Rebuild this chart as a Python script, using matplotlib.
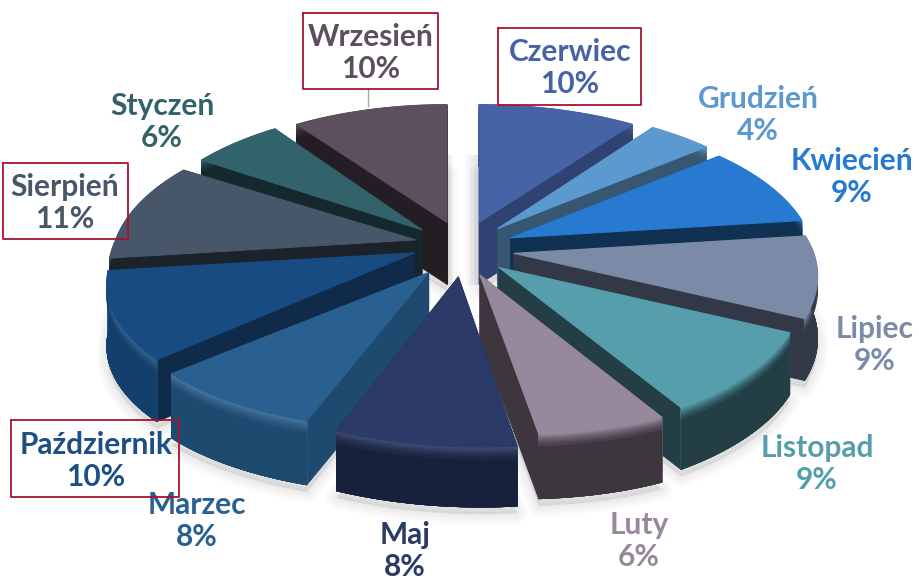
import matplotlib
matplotlib.use('Agg')
import matplotlib.pyplot as plt
from matplotlib.colors import to_rgb
import numpy as np

plt.rcParams['font.family'] = ['Lato', 'DejaVu Sans']

# miesiace i udzialy, zgodnie z ruchem wskazowek od godziny 12
months = ['Czerwiec', 'Grudzień', 'Kwiecień', 'Lipiec', 'Listopad', 'Luty',
          'Maj', 'Marzec', 'Październik', 'Sierpień', 'Styczeń', 'Wrzesień']
shares = [10, 4, 9, 9, 9, 6, 8, 8, 10, 11, 6, 10]

top_colors = ['#4563A5', '#5B99CE', '#277AD0', '#7B8AA6', '#569EAC', '#97899B',
              '#2B3A66', '#29608F', '#174B82', '#475669', '#32636A', '#5C4F5E']
wall_colors = ['#2F4272', '#375672', '#103152', '#323845', '#233F45', '#3D363F',
               '#18213C', '#1E4A70', '#133F6C', '#1C2229', '#15282D', '#241D24']
cut_colors = ['#2F4272', '#375672', '#103152', '#323845', '#233F45', '#3D363F',
              '#18213C', '#1E4A70', '#102A4A', '#1C2229', '#15282D', '#241D24']
label_colors = ['#4563A5', '#5B99CE', '#277AD0', '#7B8AA6', '#569EAC', '#97899B',
                '#2B3A66', '#29608F', '#1D4F85', '#475669', '#32636A', '#5C4F5E']

# srodki etykiet w pikselach
label_pos = [(570, 68), (758, 115), (852, 177), (875, 345), (817, 464), (639, 541),
             (405, 551), (197, 521), (96, 461), (65, 203), (162, 122), (371, 53)]
# ramki: lewa, gorna, prawa, dolna
boxes = [(498, 28, 641, 105), (303, 13, 438, 89), (3, 163, 128, 239), (11, 420, 179, 497)]

# parametry rzutu
cx, cy = 461.5, 249
rx, ry = 300, 142
persp = 0.17
ex, ey = 50, 28
# drobne korekty kawalkow
depths = [62, 62, 62, 62, 62, 65, 60, 64, 62, 62, 62, 62]
x_scale = [0.99, 1, 1, 1, 1, 1, 1, 1, 1, 1, 0.95, 0.97]
y_scale = [0.97, 1, 1, 1, 1, 0.92, 0.99, 0.92, 0.97, 1, 1, 0.97]
y_tilt = [0, 0, 0, 0, 0, 25, 18, 0, 0, 0, 0, 0]
x_nudge = [2, 2, 3, 3, 0, 0, 0, -6, -2, 3, -3, 1]
y_nudge = [0, 0, 0, 0, 0, 0, 0, 0, -8, -3, 0, 0]
rim_light = [0, 0, 0, 0, 0, 0, 0.1, 0.14, 0.14, 0, 0, 0]


def project(theta, r, i, mid):
    X = r * np.sin(theta)
    Y = r * np.cos(theta)
    s = 1 / (1 + persp * Y)
    shear = (10 - 6 * np.sin(theta)) * np.minimum(Y, 0)
    px = cx + rx * X * s * x_scale[i] + shear + ex * np.sin(mid) + x_nudge[i]
    py = cy - ry * Y * s * y_scale[i] + y_tilt[i] * X - ey * np.cos(mid) + y_nudge[i]
    return px, py


def mix(c1, c2, t):
    a, b = np.array(to_rgb(c1)), np.array(to_rgb(c2))
    return tuple(a + (b - a) * t)


fig = plt.figure(figsize=(9.2, 5.82), dpi=100)
ax = fig.add_axes([0, 0, 1, 1])
ax.set_xlim(0, 920)
ax.set_ylim(582, 0)
ax.axis('off')

edges = np.cumsum([0] + shares) / sum(shares) * 2 * np.pi
mids = (edges[:-1] + edges[1:]) / 2

# cien pod tortem
for i in range(len(shares)):
    th = np.linspace(edges[i], edges[i + 1], 40)
    x, y = project(th, 1.0, i, mids[i])
    x0, y0 = project(0.0, 0.0, i, mids[i])
    xs = np.r_[x0, x]
    ys = np.r_[y0, y] + depths[i] + 7
    for lw in [3, 7, 11, 15]:
        ax.fill(xs, ys, color='#000000', alpha=0.02, lw=lw, zorder=1, joinstyle='round')

# cien w szczelinie u gory
for w in [4, 8, 12]:
    ax.fill([478 - w, 478, 478, 478 - w], [155, 155, 285, 285], color='#000000', alpha=0.03, lw=0, zorder=1)
    ax.fill([447, 447 + w / 2, 447 + w / 2, 447], [155, 155, 285, 285], color='#000000', alpha=0.03, lw=0, zorder=1)

# od najdalszych do najblizszych
order = np.argsort(-np.cos(mids))
for n, i in enumerate(order):
    mid = mids[i]
    depth = depths[i]
    th = np.linspace(edges[i], edges[i + 1], 60)
    x, y = project(th, 1.0, i, mid)
    ax0, ay0 = project(0.0, 0.0, i, mid)
    z = 2 + n * 3

    # sciany ciecia
    for k in [0, -1]:
        ax.fill([ax0, x[k], x[k], ax0], [ay0, y[k], y[k] + depth, ay0 + depth],
                color=cut_colors[i], lw=0.6, zorder=z)

    # sciana zewnetrzna, pasy nakladane od gory do dolu zeby nie bylo szwow
    bands = [0, 1.5, 3, 4.5, 6, 8, 10, 13]
    for b, off in enumerate(bands):
        t = b / (len(bands) - 1)
        base = mix(top_colors[i], '#FFFFFF', rim_light[i]) if rim_light[i] else top_colors[i]
        c = mix(base, wall_colors[i], t)
        ax.fill(np.r_[x, x[::-1]], np.r_[y + off, y[::-1] + depth], color=c, lw=0.5, zorder=z + 1)

    # gorna powierzchnia
    ax.fill(np.r_[ax0, x], np.r_[ay0, y], color=top_colors[i], lw=0.8, zorder=z + 2, joinstyle='round')

# etykiety
for i, name in enumerate(months):
    lx, ly = label_pos[i]
    ax.text(lx, ly, f'{name}\n{shares[i]}%', color=label_colors[i], fontsize=21.5, fontweight='bold',
            ha='center', va='center', linespacing=1.2, zorder=60)

for l, t, r, b in boxes:
    ax.plot([l, r, r, l, l], [t, t, b, b, t], color='#A8122F', lw=1.3, zorder=61)

# linia do etykiety Wrzesien
ax.plot([368, 368], [89, 106], color='#A6A6A6', lw=1, zorder=1)

fig.savefig('out.png', dpi=100)
